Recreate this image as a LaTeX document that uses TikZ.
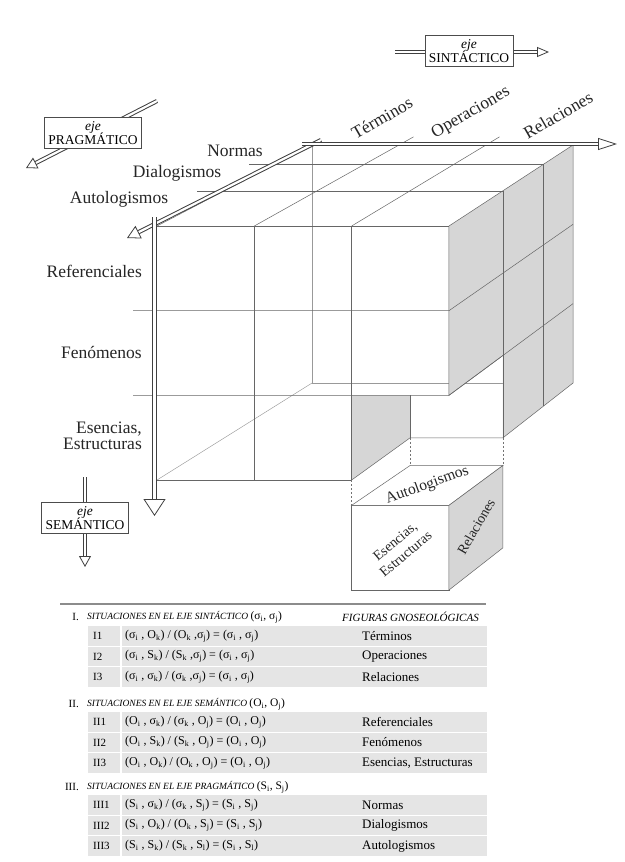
\documentclass[tikz,border=0pt]{standalone}
\usepackage{fontspec}
\setmainfont{Liberation Serif}
\usetikzlibrary{arrows.meta,calc}

\newcommand{\sbx}[2]{#1\textsubscript{#2}}

\tikzset{
  edge/.style={draw=black!60, line width=0.5pt},
  hidden/.style={draw=black!40, line width=0.45pt},
  guide/.style={draw=black!55, line width=0.5pt, dash pattern=on 2pt off 2pt},
  facegray/.style={fill=black!16},
  axisline/.style={preaction={draw=black!75, line width=4.2pt}, draw=white, line width=2.2pt},
  axistip/.style 2 args={draw=black!75, line width=0.8pt, -{Triangle[fill=white, length=#1, width=#2]}},
  axlabel/.style={font=\fontsize{17.5}{16}\selectfont, text=black!85, inner sep=1pt},
  ejebox/.style={draw=black!70, fill=white, line width=0.7pt, align=center, inner xsep=4pt, inner ysep=4pt, font=\fontsize{13.5}{14.5}\selectfont},
  cubelabel/.style={font=\fontsize{14}{16.5}\selectfont, align=center, text=black!85, inner sep=0pt},
  rowband/.style={fill=black!10},
  rowno/.style={anchor=west, inner sep=1pt, font=\fontsize{11}{12}\selectfont},
  rowexpr/.style={anchor=west, inner sep=1pt, font=\fontsize{12}{13}\selectfont},
  sechead/.style={anchor=west, inner sep=1pt, font=\fontsize{9.5}{11}\selectfont\itshape},
}

\begin{document}
\begin{tikzpicture}[x=1pt, y=-1pt]
\path[use as bounding box, fill=white] (0,0) rectangle (624,862);

% grid of the big cube: p<col><row><depth>
\foreach \col in {0,...,3}
  \foreach \row in {0,...,3}
    \foreach \dep/\f in {0/0,1/0.435,2/0.758,3/1}
      \coordinate (p\col\row\dep) at ({157+97.33*\col+(155-10.33*\col)*\f}, {226+84.67*\row-(81+5.33*\row)*\f});

% hidden edges
\draw[hidden] (p003) -- (p033) -- (p333);
\draw[hidden] (p030) -- (p033);

% shaded faces
\fill[facegray] (p300) -- (p303) -- (p333) -- (p331) -- (p321) -- (p320) -- cycle;
\fill[facegray] (p220) -- (p230) -- (p231) -- (p231 |- p220) -- cycle;

% front face
\draw[edge] (p000) -- (p300);
\draw[edge] ([xshift=-24pt]p010) -- (p310) -- (p313);
\draw[edge] ([xshift=-24pt]p020) -- (p320) -- (p323);
\draw[edge] (p030) -- (p230);
\draw[edge] (p100) -- (p130);
\draw[edge] (p200) -- (p230);
\draw[edge] (p300) -- (p320) -- (p321);

% top face
\draw[edge] (p000) -- (p003);
\draw[edge] (p100) -- ($(p100)!1.1!(p103)$);
\draw[edge] (p200) -- ($(p200)!1.1!(p203)$);
\draw[edge] ([xshift=-27pt]p001) -- (p301) -- (p331);
\draw[edge] ([xshift=-25pt]p002) -- (p302) -- (p332);
\draw[edge] (p003) -- (p303);
\draw[edge] (p300) -- (p303) -- (p333) -- (p331);

% hole left by the small cube
\draw[edge] (p230) -- (p231) -- (p331);
\draw[edge] (p231) -- (p231 |- p220);

% small cube, moved down
\foreach \col in {2,3}
  \foreach \row in {2,3}
    \foreach \dep in {0,1}
      \coordinate (s\col\row\dep) at ($(p\col\row\dep)+(0,110)$);
\draw[guide] (p230) -- (s220);
\draw[guide] (p231) -- (s221);
\draw[guide] (p331) -- (s321);
\filldraw[edge, fill=white] (s220) -- (s320) -- (s330) -- (s230) -- cycle;
\filldraw[edge, fill=white] (s220) -- (s221) -- (s321) -- (s320) -- cycle;
\filldraw[edge, facegray] (s320) -- (s321) -- (s331) -- (s330) -- cycle;
\node[cubelabel, font=\fontsize{15.5}{15.5}\selectfont, rotate=20] (saut) at ($(s220)!0.5!(s321)$) {Autologismos};
\node[cubelabel, rotate=40] (sess) at ($(s220)!0.5!(s330)$) {Esencias,\\Estructuras};
\node[cubelabel, rotate=60] (srel) at ($(s320)!0.5!(s331)$) {Relaciones};

% axes of the cube
\coordinate (setop) at (154.5,217);
\coordinate (setip) at (154.5,516);
\coordinate (prtop) at (321,140);
\coordinate (prtip) at (127,238);
\coordinate (sytop) at (302,144);
\coordinate (sytip) at (617,144);
\draw[axisline] (prtop) -- ($(prtip)!8pt!(prtop)$);
\draw[axistip={13pt}{14pt}] ($(prtip)!13pt!(prtop)$) -- (prtip);
\draw[axisline] (sytop) -- ($(sytip)!8pt!(sytop)$);
\draw[axistip={19pt}{12pt}] ($(sytip)!19pt!(sytop)$) -- (sytip);
\draw[axisline] (setop) -- ($(setip)!8pt!(setop)$);
\draw[axistip={17pt}{22pt}] ($(setip)!17pt!(setop)$) -- (setip);

% labels of the cube
\node[axlabel, rotate=30] (lter) at (382,118) {Términos};
\node[axlabel, rotate=30] (lope) at (471,113) {Operaciones};
\node[axlabel, rotate=30] (lrel) at (558,115) {Relaciones};
\node[axlabel] (lnor) at (235,151) {Normas};
\node[axlabel] (ldia) at (177,173) {Dialogismos};
\node[axlabel] (laut) at (119,199) {Autologismos};
\node[axlabel, anchor=east] (lref) at (143,271) {Referenciales};
\node[axlabel, anchor=east] (lfen) at (143,352) {Fenómenos};
\node[axlabel, anchor=east, align=right] (less) at (143,436) {Esencias,\\Estructuras};

% eje boxes
\coordinate (pgA) at (157,101);
\coordinate (pgB) at (26,168);
\draw[axisline] (pgA) -- ($(pgB)!6pt!(pgA)$);
\node[ejebox] (pgbox) at (93,133) {\textit{eje}\\PRAGMÁTICO};
\draw[axistip={11pt}{12pt}] ($(pgB)!11pt!(pgA)$) -- (pgB);

\coordinate (syA) at (395,52);
\coordinate (syB) at (549,52);
\draw[axisline] (syA) -- ($(syB)!6pt!(syA)$);
\node[ejebox] (sybox) at (469,51) {\textit{eje}\\SINTÁCTICO};
\draw[axistip={12pt}{10pt}] ($(syB)!12pt!(syA)$) -- (syB);

\coordinate (seA) at (85,477);
\coordinate (seB) at (85,567);
\draw[axisline] (seA) -- ($(seB)!6pt!(seA)$);
\node[ejebox] (sebox) at (85,518) {\textit{eje}\\SEMÁNTICO};
\draw[axistip={11pt}{12pt}] ($(seB)!11pt!(seA)$) -- (seB);

% table
\draw[black!45, line width=1.4pt] (60,604) -- (486,604);
\foreach \y in {636,656.5,677,722,742.5,763,805,825.5,846} {
  \fill[rowband] (88,\y-9.6) rectangle (120,\y+9.6);
  \fill[rowband] (121.5,\y-9.6) rectangle (487,\y+9.6);
}

\node[rowno, anchor=east] (h1n) at (80,617) {I.};
\node[sechead] (h1) at (86,617) {SITUACIONES EN EL EJE SINTÁCTICO {\upshape\fontsize{11.5}{12}\selectfont(\sbx{σ}{i}, \sbx{σ}{j})}};
\node[sechead, font=\fontsize{11}{12}\selectfont\itshape] (hfig) at (341,617) {FIGURAS GNOSEOLÓGICAS};
\node[rowno] (n11) at (92,636) {I1};
\node[rowexpr] (e11) at (124,636) {(\sbx{σ}{i} , \sbx{O}{k}) / (\sbx{O}{k} ,\sbx{σ}{j}) = (\sbx{σ}{i} , \sbx{σ}{j})};
\node[rowexpr, font=\fontsize{13}{14}\selectfont] (f11) at (361,636) {Términos};
\node[rowno] (n12) at (92,656.5) {I2};
\node[rowexpr] (e12) at (124,656.5) {(\sbx{σ}{i} , \sbx{S}{k}) / (\sbx{S}{k} ,\sbx{σ}{j}) = (\sbx{σ}{i} , \sbx{σ}{j})};
\node[rowexpr, font=\fontsize{13}{14}\selectfont] (f12) at (361,656.5) {Operaciones};
\node[rowno] (n13) at (92,677) {I3};
\node[rowexpr] (e13) at (124,677) {(\sbx{σ}{i} , \sbx{σ}{k}) / (\sbx{σ}{k} ,\sbx{σ}{j}) = (\sbx{σ}{i} , \sbx{σ}{j})};
\node[rowexpr, font=\fontsize{13}{14}\selectfont] (f13) at (361,677) {Relaciones};

\node[rowno, anchor=east] (h2n) at (80,704) {II.};
\node[sechead] (h2) at (86,704) {SITUACIONES EN EL EJE SEMÁNTICO {\upshape\fontsize{11.5}{12}\selectfont(\sbx{O}{i}, \sbx{O}{j})}};
\node[rowno] (n21) at (92,722) {II1};
\node[rowexpr] (e21) at (124,722) {(\sbx{O}{i} , \sbx{σ}{k}) / (\sbx{σ}{k} , \sbx{O}{j}) = (\sbx{O}{i} , \sbx{O}{j})};
\node[rowexpr, font=\fontsize{13}{14}\selectfont] (f21) at (361,722) {Referenciales};
\node[rowno] (n22) at (92,742.5) {II2};
\node[rowexpr] (e22) at (124,742.5) {(\sbx{O}{i} , \sbx{S}{k}) / (\sbx{S}{k} , \sbx{O}{j}) = (\sbx{O}{i} , \sbx{O}{j})};
\node[rowexpr, font=\fontsize{13}{14}\selectfont] (f22) at (361,742.5) {Fenómenos};
\node[rowno] (n23) at (92,763) {II3};
\node[rowexpr] (e23) at (124,763) {(\sbx{O}{i} , \sbx{O}{k}) / (\sbx{O}{k} , \sbx{O}{j}) = (\sbx{O}{i} , \sbx{O}{j})};
\node[rowexpr, font=\fontsize{13}{14}\selectfont] (f23) at (361,763) {Esencias, Estructuras};

\node[rowno, anchor=east] (h3n) at (80,787) {III.};
\node[sechead] (h3) at (86,787) {SITUACIONES EN EL EJE PRAGMÁTICO {\upshape\fontsize{11.5}{12}\selectfont(\sbx{S}{i}, \sbx{S}{j})}};
\node[rowno] (n31) at (92,805) {III1};
\node[rowexpr] (e31) at (124,805) {(\sbx{S}{i} , \sbx{σ}{k}) / (\sbx{σ}{k} , \sbx{S}{j}) = (\sbx{S}{i} , \sbx{S}{j})};
\node[rowexpr, font=\fontsize{13}{14}\selectfont] (f31) at (361,805) {Normas};
\node[rowno] (n32) at (92,825.5) {III2};
\node[rowexpr] (e32) at (124,825.5) {(\sbx{S}{i} , \sbx{O}{k}) / (\sbx{O}{k} , \sbx{S}{j}) = (\sbx{S}{i} , \sbx{S}{j})};
\node[rowexpr, font=\fontsize{13}{14}\selectfont] (f32) at (361,825.5) {Dialogismos};
\node[rowno] (n33) at (92,846) {III3};
\node[rowexpr] (e33) at (124,846) {(\sbx{S}{i} , \sbx{S}{k}) / (\sbx{S}{k} , \sbx{S}{l}) = (\sbx{S}{i} , \sbx{S}{l})};
\node[rowexpr, font=\fontsize{13}{14}\selectfont] (f33) at (361,846) {Autologismos};
\end{tikzpicture}
\end{document}
